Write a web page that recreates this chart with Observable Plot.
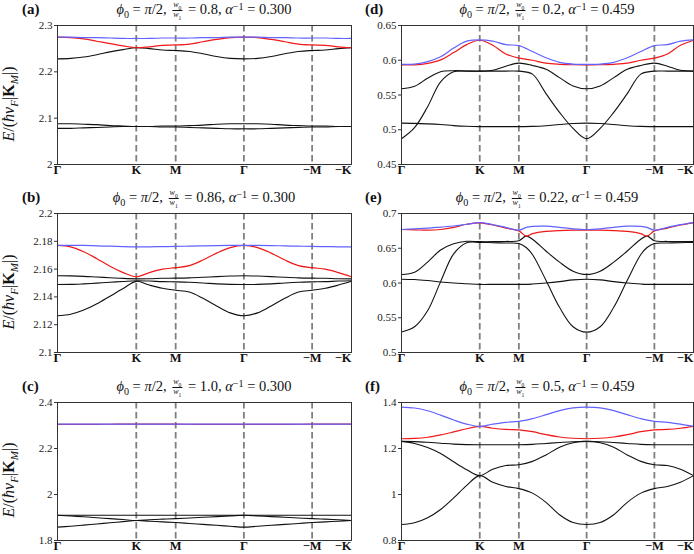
<!DOCTYPE html>
<html><head><meta charset="utf-8">
<script src="https://cdn.jsdelivr.net/npm/d3@7"></script>
<script src="https://cdn.jsdelivr.net/npm/@observablehq/plot@0.6"></script>
<style>
body{margin:0;background:#fff;}
#fig{position:relative;width:694px;height:554px;overflow:hidden;font-family:"Liberation Serif",serif;color:#111;}
.pan{position:absolute;}
.title{position:absolute;white-space:nowrap;font-size:14.5px;line-height:16px;transform:translate(-50%,-50%);}
.lab{position:absolute;font-weight:bold;font-size:15px;line-height:1;transform:translateY(-50%);}
.frac{display:inline-block;vertical-align:middle;font-size:8px;line-height:0.85;text-align:center;margin:0 2px;}
.frac>span{display:block;}
.frac>span:first-child{border-bottom:0.7px solid #111;padding:0 1px 1px 1px;}
.frac>span:last-child{padding-top:1px;}
sub,sup{font-size:70%;line-height:0;}
sup{vertical-align:0.4em;}
.ylab{position:absolute;font-size:16px;white-space:nowrap;transform:translate(-50%,-50%) rotate(-90deg);}
</style></head>
<body><div id="fig"></div>
<script>
// path coordinate (Γ → K → M → Γ → −M → −K)
const kx = [0,0.1925,0.3849,0.5774,0.7698,0.9623,1.1547,1.3472,1.5396,1.7321,1.9321,2.1321,2.3321,2.5321,2.7321,2.9321,3.1321,3.3321,3.5321,3.7321,3.9245,4.1170,4.3094];
const kxE = [0,0.1925,0.3849,0.5774,0.7698,0.9623,1.1547,1.3472,1.5396,1.7321,1.840,1.9321,2.1321,2.3321,2.5321,2.7321,2.9321,3.1321,3.3321,3.5321,3.624,3.7321,3.9245,4.1170,4.3094];
const tickPos = [0,1.1547,1.7321,2.7321,3.7321,4.3094];
const tickLabels = ["Γ","K","M","Γ","−M","−K"];
const dashPos = [1.1547,1.7321,2.7321,3.7321];

// (a)
const aBlue = [2.275,2.275,2.274,2.274,2.273,2.272,2.272,2.272,2.273,2.273,2.273,2.274,2.274,2.275,2.275,2.275,2.274,2.274,2.273,2.273,2.273,2.272,2.272];
const aRed  = [2.275,2.274,2.271,2.266,2.261,2.256,2.252,2.254,2.257,2.258,2.260,2.265,2.270,2.274,2.275,2.274,2.270,2.265,2.260,2.258,2.257,2.254,2.252];
const aBlk1 = [2.228,2.229,2.232,2.237,2.243,2.248,2.252,2.250,2.247,2.246,2.244,2.239,2.233,2.229,2.228,2.229,2.233,2.239,2.244,2.246,2.247,2.250,2.252];
const aBlk2 = [2.088,2.088,2.087,2.086,2.084,2.083,2.082,2.082,2.083,2.083,2.084,2.085,2.087,2.088,2.088,2.088,2.087,2.085,2.084,2.083,2.083,2.082,2.082];
const aBlk3 = [2.078,2.078,2.079,2.080,2.081,2.082,2.082,2.082,2.081,2.081,2.080,2.079,2.078,2.077,2.077,2.077,2.078,2.079,2.080,2.081,2.081,2.082,2.082];
const aTicks = [2,2.1,2.2,2.3];
// (b)
const bBlue = [2.177,2.177,2.177,2.1767,2.1765,2.1762,2.176,2.176,2.1762,2.1763,2.1765,2.1767,2.1769,2.177,2.177,2.177,2.1769,2.1767,2.1765,2.1763,2.1762,2.176,2.176];
const bRed  = [2.177,2.176,2.1725,2.1675,2.162,2.1575,2.1545,2.1575,2.160,2.161,2.1625,2.1665,2.1715,2.1755,2.177,2.1755,2.1715,2.1665,2.1625,2.161,2.160,2.1575,2.1545];
const bBlk1 = [2.1552,2.1551,2.1548,2.1543,2.1538,2.1533,2.153,2.1531,2.1534,2.1535,2.1537,2.1541,2.1546,2.155,2.1552,2.155,2.1546,2.1541,2.1537,2.1535,2.1534,2.1531,2.153];
const bBlk2 = [2.1489,2.149,2.1494,2.1499,2.1505,2.1511,2.1516,2.1514,2.151,2.1508,2.1505,2.15,2.1494,2.149,2.1489,2.149,2.1494,2.15,2.1505,2.1508,2.151,2.1514,2.1516];
const bBlk3 = [2.1264,2.1275,2.1305,2.135,2.1405,2.146,2.1512,2.1485,2.1462,2.1448,2.1435,2.139,2.1335,2.1285,2.1264,2.1285,2.1335,2.139,2.1435,2.1448,2.1462,2.1485,2.1512];
const bTicks = [2.1,2.12,2.14,2.16,2.18,2.2];
// (c)
const cBlue = [2.306,2.306,2.306,2.306,2.306,2.306,2.306,2.306,2.306,2.306,2.306,2.306,2.306,2.306,2.306,2.306,2.306,2.306,2.306,2.306,2.306,2.306,2.306];
const cRed  = [2.3045,2.3047,2.305,2.3053,2.3055,2.3057,2.3058,2.3058,2.3057,2.3056,2.3054,2.3051,2.3048,2.3046,2.3045,2.3046,2.3048,2.3051,2.3054,2.3056,2.3057,2.3058,2.3058];
const cBlk1 = [1.910,1.910,1.910,1.910,1.910,1.910,1.910,1.910,1.910,1.910,1.910,1.910,1.910,1.910,1.910,1.910,1.910,1.910,1.910,1.910,1.910,1.910,1.910];
const cBlk2 = [1.910,1.9065,1.903,1.899,1.895,1.891,1.887,1.890,1.893,1.895,1.898,1.901,1.904,1.907,1.910,1.907,1.904,1.901,1.898,1.895,1.893,1.890,1.887];
const cBlk3 = [1.858,1.862,1.867,1.872,1.877,1.882,1.887,1.884,1.881,1.878,1.874,1.870,1.866,1.862,1.858,1.862,1.866,1.870,1.874,1.878,1.881,1.884,1.887];
const cTicks = [1.8,2,2.2,2.4];
// (d)
const dBlue = [0.594,0.5945,0.598,0.605,0.6175,0.6275,0.6294,0.6275,0.6225,0.621,0.6125,0.6035,0.597,0.5945,0.594,0.5945,0.597,0.6035,0.6125,0.621,0.6225,0.6275,0.6294];
const dRed  = [0.5934,0.5934,0.5955,0.6005,0.611,0.6225,0.6288,0.6215,0.609,0.603,0.600,0.5958,0.5942,0.5935,0.5934,0.5935,0.5942,0.5958,0.600,0.603,0.609,0.6215,0.6288];
const dBlk1 = [0.5589,0.5625,0.574,0.5835,0.585,0.5845,0.5843,0.5855,0.5915,0.5958,0.5925,0.587,0.575,0.563,0.5589,0.563,0.575,0.587,0.5925,0.5958,0.5915,0.5855,0.5843];
const dBlk2 = [0.487,0.503,0.533,0.569,0.5835,0.5843,0.5843,0.5843,0.5843,0.5843,0.580,0.552,0.525,0.502,0.487,0.502,0.525,0.552,0.580,0.5843,0.5843,0.5843,0.5843];
const dBlk3 = [0.5095,0.5092,0.5085,0.5075,0.506,0.505,0.5045,0.5045,0.5045,0.5045,0.5048,0.5058,0.5075,0.509,0.5095,0.509,0.5075,0.5058,0.5048,0.5045,0.5045,0.5045,0.5045];
const dTicks = [0.45,0.5,0.55,0.6,0.65];
// (e) — on kxE (band crossings near M and −M)
const eBlue = [0.677,0.678,0.679,0.6805,0.682,0.6845,0.687,0.684,0.680,0.676,0.680,0.6815,0.6818,0.680,0.678,0.677,0.678,0.680,0.6818,0.6815,0.680,0.676,0.680,0.684,0.687];
const eRed  = [0.677,0.6765,0.676,0.677,0.680,0.6845,0.6866,0.6835,0.679,0.675,0.6675,0.671,0.6742,0.6755,0.676,0.676,0.676,0.6755,0.6742,0.671,0.6675,0.675,0.679,0.6835,0.6866];
const eBlk1 = [0.6122,0.6155,0.630,0.6475,0.6565,0.660,0.6595,0.6595,0.6598,0.6607,0.6675,0.663,0.646,0.630,0.617,0.6122,0.617,0.630,0.646,0.663,0.6675,0.6607,0.6598,0.6595,0.6595];
const eBlk2 = [0.5295,0.537,0.560,0.602,0.642,0.658,0.6585,0.658,0.6575,0.6568,0.651,0.641,0.604,0.565,0.537,0.5293,0.537,0.565,0.604,0.641,0.651,0.6568,0.6575,0.658,0.6585];
const eBlk3 = [0.6055,0.605,0.6035,0.6015,0.600,0.599,0.598,0.598,0.598,0.598,0.598,0.5985,0.600,0.602,0.6045,0.6055,0.6045,0.602,0.600,0.5985,0.598,0.598,0.598,0.598,0.598];
const eTicks = [0.5,0.55,0.6,0.65,0.7];
// (f)
const fBlue = [1.380,1.376,1.364,1.345,1.324,1.306,1.296,1.306,1.314,1.318,1.330,1.347,1.365,1.377,1.380,1.377,1.365,1.347,1.330,1.318,1.314,1.306,1.296];
const fRed  = [1.2424,1.244,1.249,1.259,1.272,1.286,1.296,1.288,1.283,1.2814,1.273,1.260,1.250,1.2445,1.2424,1.2445,1.250,1.260,1.273,1.2814,1.283,1.288,1.296];
const fBlk1 = [1.2308,1.230,1.227,1.223,1.219,1.217,1.2164,1.2164,1.2164,1.2164,1.218,1.222,1.226,1.2295,1.2308,1.2295,1.226,1.222,1.218,1.2164,1.2164,1.2164,1.2164];
const fBlk2 = [1.2308,1.222,1.204,1.178,1.142,1.108,1.082,1.110,1.126,1.1296,1.144,1.172,1.205,1.225,1.2308,1.225,1.205,1.172,1.144,1.1296,1.126,1.110,1.082];
const fBlk3 = [0.8694,0.877,0.899,0.935,0.985,1.040,1.082,1.053,1.035,1.0255,1.006,0.966,0.912,0.878,0.8694,0.878,0.912,0.966,1.006,1.0255,1.035,1.053,1.082];
const fTicks = [0.8,1,1.2,1.4];

const panels = [
  {lab:"(a)", col:0, row:0, xs:kx, blue:aBlue, red:aRed, black:[aBlk1,aBlk2,aBlk3], ticks:aTicks, ratio:"0.8",  alpha:"0.300"},
  {lab:"(b)", col:0, row:1, xs:kx, blue:bBlue, red:bRed, black:[bBlk1,bBlk2,bBlk3], ticks:bTicks, ratio:"0.86", alpha:"0.300"},
  {lab:"(c)", col:0, row:2, xs:kx, blue:cBlue, red:cRed, black:[cBlk1,cBlk2,cBlk3], ticks:cTicks, ratio:"1.0",  alpha:"0.300"},
  {lab:"(d)", col:1, row:0, xs:kx, blue:dBlue, red:dRed, black:[dBlk1,dBlk2,dBlk3], ticks:dTicks, ratio:"0.2",  alpha:"0.459"},
  {lab:"(e)", col:1, row:1, xs:kxE,blue:eBlue, red:eRed, black:[eBlk1,eBlk2,eBlk3], ticks:eTicks, ratio:"0.22", alpha:"0.459"},
  {lab:"(f)", col:1, row:2, xs:kx, blue:fBlue, red:fRed, black:[fBlk1,fBlk2,fBlk3], ticks:fTicks, ratio:"0.5",  alpha:"0.459"}
];

const rowTop = [25, 213, 402];
const rowH = [139, 139, 138];
const fig = document.getElementById("fig");

for (const p of panels) {
  const left = p.col === 0;
  const mL = left ? 57 : 55, W = left ? 352 : 348, sx = left ? 0 : 346;
  const mT = 5, mB = 20, fh = rowH[p.row];
  const H = fh + mT + mB;
  const top = rowTop[p.row];
  const blackRows = [];
  p.black.forEach((arr, j) => arr.forEach((v, i) => blackRows.push({x: p.xs[i], y: v, band: j})));
  const redRows = p.red.map((v, i) => ({x: p.xs[i], y: v}));
  const blueRows = p.blue.map((v, i) => ({x: p.xs[i], y: v}));
  const lbl = tickPos.map((x, i) => ({x, t: tickLabels[i]}));
  const svg = Plot.plot({
    width: W, height: H, marginLeft: mL, marginRight: 1, marginTop: mT, marginBottom: mB,
    style: {fontFamily: "Liberation Serif, serif", fontSize: "11px", color: "#222", background: "transparent", overflow: "visible"},
    x: {domain: [0, 4.3094], axis: null},
    y: {domain: [p.ticks[0], p.ticks[p.ticks.length - 1]], axis: null},
    marks: [
      Plot.ruleX(dashPos, {stroke: "#7f7f7f", strokeWidth: 1.8, strokeDasharray: "6.5,3.5"}),
      Plot.line(blackRows, {x: "x", y: "y", z: "band", stroke: "#111", strokeWidth: 1.1, curve: "catmull-rom"}),
      Plot.line(redRows, {x: "x", y: "y", stroke: "#f01818", strokeWidth: 1.2, curve: "catmull-rom"}),
      Plot.line(blueRows, {x: "x", y: "y", stroke: "#6262ff", strokeWidth: 1.2, curve: "catmull-rom"}),
      Plot.frame({stroke: "#333", strokeWidth: 1}),
      Plot.axisY(p.ticks, {tickSize: 3, tickPadding: 2, tickFormat: d => String(d), label: null, fontSize: 11, stroke: "#333"}),
      Plot.text(lbl.slice(0, 5), {x: "x", text: "t", frameAnchor: "bottom", dy: 9, fontWeight: "bold", fontSize: 12.5, fill: "#111"}),
      Plot.text(lbl.slice(5), {x: "x", text: "t", frameAnchor: "bottom", dy: 9, textAnchor: "end", fontWeight: "bold", fontSize: 12.5, fill: "#111"})
    ]
  });
  const wrap = document.createElement("div");
  wrap.className = "pan";
  wrap.style.left = sx + "px";
  wrap.style.top = (top - mT) + "px";
  wrap.appendChild(svg);
  fig.appendChild(wrap);

  const fx0 = sx + mL, fx1 = sx + W - 1;
  const t = document.createElement("div");
  t.className = "title";
  t.style.left = ((fx0 + fx1) / 2) + "px";
  t.style.top = (top - 15) + "px";
  t.innerHTML = `<i>ϕ</i><sub>0</sub> = <i>π</i>/2, <span class="frac"><span><i>w</i><sub>0</sub></span><span><i>w</i><sub>1</sub></span></span> = ${p.ratio}, <i>α</i><sup>−1</sup> = ${p.alpha}`;
  fig.appendChild(t);

  const l = document.createElement("div");
  l.className = "lab";
  l.style.left = (left ? 22 : 365) + "px";
  l.style.top = (top - 16) + "px";
  l.textContent = p.lab;
  fig.appendChild(l);

  if (left) {
    const y = document.createElement("div");
    y.className = "ylab";
    y.style.left = "9px";
    y.style.top = (top + fh / 2 + 9) + "px";
    y.innerHTML = `<i>E</i>/(<i>ħv</i><sub><i>F</i></sub>|<b>K</b><sub><i>M</i></sub>|)`;
    fig.appendChild(y);
  }
}
</script>
</body></html>
